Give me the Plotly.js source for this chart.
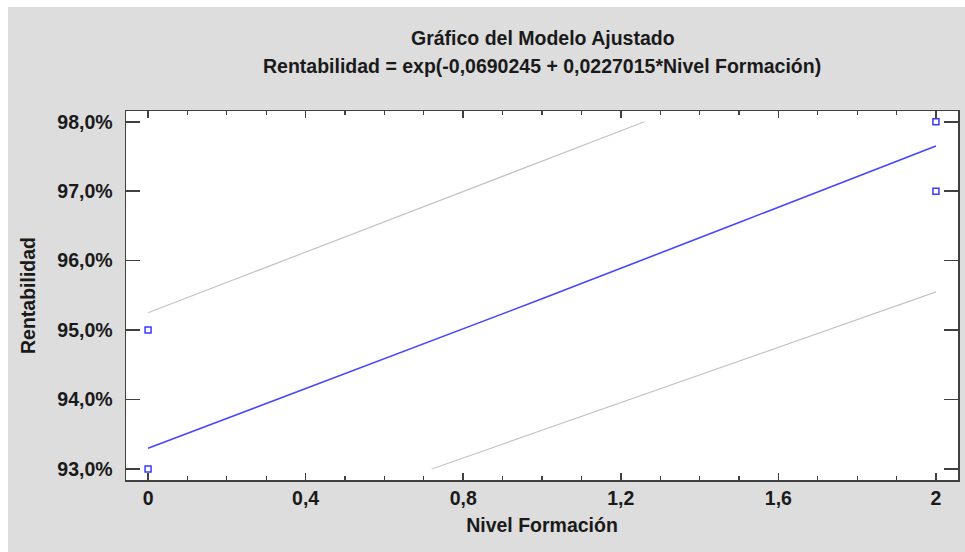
<!DOCTYPE html>
<html>
<head>
<meta charset="utf-8">
<script src="https://cdn.plot.ly/plotly-3.0.1.min.js"></script>
<style>html,body{margin:0;padding:0;background:#fff;}#chart{width:965px;height:552px;}</style>
</head>
<body>
<div id="chart"></div>
<script>
// Observed data
const nivel = [0, 0, 2, 2];
const rentabilidad = [95.0, 93.0, 98.0, 97.0];
// Fitted model
const fitX = [0, 0.5, 1.0, 1.5, 2.0];
const fitY = [93.30, 94.38, 95.45, 96.55, 97.65];
// Prediction limits
const upperX = [0, 0.6, 1.26];
const upperY = [95.25, 96.56, 98.0];
const lowerX = [0.72, 1.4, 2.0];
const lowerY = [93.0, 94.35, 95.55];
// Ticks
const xTicks = [0, 0.4, 0.8, 1.2, 1.6, 2];
const yTicks = [93, 94, 95, 96, 97, 98];
const yTickText = ['93,0%', '94,0%', '95,0%', '96,0%', '97,0%', '98,0%'];

const FONT = 'Liberation Sans, Arial, sans-serif';
const BOLD = {family: FONT, size: 19.5, color: '#1a1a1a', weight: 'bold'};

const traces = [
  {x: upperX, y: upperY, type: 'scatter', mode: 'lines', line: {color: '#c4c4c4', width: 1.2}, hoverinfo: 'skip'},
  {x: lowerX, y: lowerY, type: 'scatter', mode: 'lines', line: {color: '#c4c4c4', width: 1.2}, hoverinfo: 'skip'},
  {x: fitX, y: fitY, type: 'scatter', mode: 'lines', line: {color: '#4646ff', width: 1.6}},
  {x: nivel, y: rentabilidad, type: 'scatter', mode: 'markers',
   marker: {symbol: 'square-open', size: 6, color: '#3a3aff', line: {width: 1.5, color: '#3a3aff'}}}
];

const axisCommon = {
  showline: true, linecolor: '#404040', linewidth: 1.5, mirror: 'ticks',
  ticks: 'inside', tickcolor: '#404040', tickwidth: 1.5,
  showgrid: false, zeroline: false, tickfont: BOLD
};

const layout = {
  width: 965, height: 552,
  paper_bgcolor: '#ffffff', plot_bgcolor: '#ffffff',
  separators: ',.',
  showlegend: false,
  margin: {l: 126, r: 7, t: 111, b: 72},
  title: {text: 'Gráfico del Modelo Ajustado', font: BOLD, x: 0.5625, xanchor: 'center', y: 0.931, yanchor: 'middle'},
  annotations: [{
    text: 'Rentabilidad = exp(-0,0690245 + 0,0227015*Nivel Formación)',
    xref: 'paper', yref: 'paper', x: 0.5, y: (480 - 66) / 369, xanchor: 'center', yanchor: 'middle',
    showarrow: false, font: BOLD
  }],
  xaxis: Object.assign({}, axisCommon, {
    range: [-0.056, 2.056], tickvals: xTicks, ticklen: 7,
    minor: {dtick: 0.1, tick0: 0, ticks: 'inside', ticklen: 4, tickcolor: '#404040', tickwidth: 1.2},
    title: {text: 'Nivel Formación', font: BOLD, standoff: 10}
  }),
  yaxis: Object.assign({}, axisCommon, {
    range: [92.842, 98.155], tickvals: yTicks, ticktext: yTickText, ticklen: 14,
    ticklabelstandoff: 8,
    title: {text: 'Rentabilidad', font: BOLD, standoff: 16}
  }),
  shapes: [
    {type: 'rect', xref: 'paper', yref: 'paper', layer: 'below',
     x0: (8 - 126) / 832, x1: (966 - 126) / 832, y0: (480 - 553) / 369, y1: (480 - 7) / 369,
     fillcolor: '#dddddd', line: {width: 0}},
    {type: 'rect', xref: 'paper', yref: 'paper', layer: 'below',
     x0: 0, x1: 1, y0: 0, y1: 1,
     fillcolor: '#ffffff', line: {width: 0}}
  ]
};

Plotly.newPlot('chart', traces, layout, {displayModeBar: false, staticPlot: true});
</script>
</body>
</html>
